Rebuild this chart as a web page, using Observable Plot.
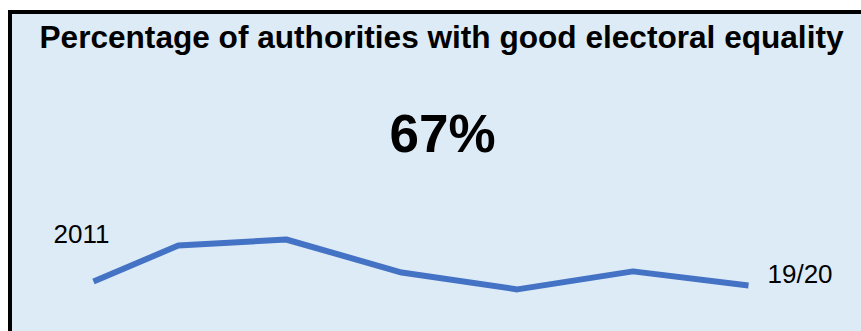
<!DOCTYPE html>
<html>
<head>
<meta charset="utf-8">
<script src="https://cdn.jsdelivr.net/npm/d3@7"></script>
<script src="https://cdn.jsdelivr.net/npm/@observablehq/plot@0.6"></script>
<style>
  html, body { margin: 0; padding: 0; background: #ffffff; }
  #wrap { position: relative; width: 861px; height: 331px; overflow: hidden; }
  #box { position: absolute; left: 8px; top: 10px; width: 900px; height: 400px;
         background: #DDEBF7; border-left: 4px solid #000; border-top: 4px solid #000; }
  #chart { position: absolute; left: 0; top: 0; }
</style>
</head>
<body>
<div id="wrap"><div id="box"></div><div id="chart"></div></div>
<script>
const title = "Percentage of authorities with good electoral equality";
const headline = "67%";
const periods = [2011, 2012.1, 2013.5, 2015, 2016.5, 2018, 2019.5];
const values = [68.3, 80.3, 82.3, 71.3, 65.7, 71.7, 67];
const endLabels = ["2011", "19/20"];

const data = periods.map((p, i) => ({x: p, y: values[i]}));
const first = data[0], last = data[data.length - 1];

const chart = Plot.plot({
  width: 861,
  height: 331,
  margin: 0,
  style: {background: "transparent", overflow: "visible"},
  x: {domain: [periods[0], periods[periods.length - 1]], range: [93, 748], axis: null},
  y: {domain: [values[values.length - 1], d3.max(values)], range: [285, 239], axis: null},
  marks: [
    Plot.line(data, {x: "x", y: "y", stroke: "#4472C4", strokeWidth: 6,
      strokeLinejoin: "miter", strokeLinecap: "butt"}),
    Plot.text([first], {x: "x", y: "y", text: () => endLabels[0], dx: -12, dy: -39,
      lineAnchor: "bottom", textAnchor: "middle", fontSize: 26,
      fontFamily: "Liberation Sans, Arial, sans-serif", fill: "#000"}),
    Plot.text([last], {x: "x", y: "y", text: () => endLabels[1], dx: 19, dy: -3,
      lineAnchor: "bottom", textAnchor: "start", fontSize: 26,
      fontFamily: "Liberation Sans, Arial, sans-serif", fill: "#000"}),
    Plot.text([title], {frameAnchor: "top-left", text: d => d, dx: 441, dy: 47,
      lineAnchor: "bottom", textAnchor: "middle", fontSize: 31.6, fontWeight: "bold",
      fontFamily: "Liberation Sans, Arial, sans-serif", fill: "#000"}),
    Plot.text([headline], {frameAnchor: "top-left", text: d => d, dx: 442, dy: 151,
      lineAnchor: "bottom", textAnchor: "middle", fontSize: 53, fontWeight: "bold",
      fontFamily: "Liberation Sans, Arial, sans-serif", fill: "#000"})
  ]
});
document.getElementById("chart").appendChild(chart);
</script>
</body>
</html>
